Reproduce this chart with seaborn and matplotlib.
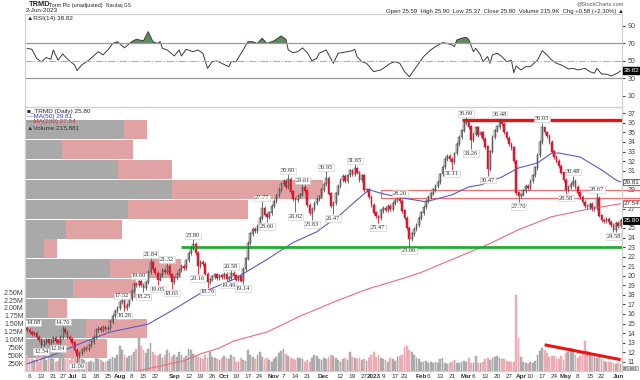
import matplotlib
matplotlib.use("Agg")
import matplotlib.pyplot as plt
import matplotlib.transforms as mtransforms
from matplotlib.patches import Rectangle
import numpy as np
import pandas as pd
import seaborn as sns

# trading sessions 3-Jun-2022 .. 2-Jun-2023 (US market holidays removed)
holidays = ["2022-06-20", "2022-07-04", "2022-09-05", "2022-11-24", "2022-12-26",
            "2023-01-02", "2023-01-16", "2023-02-20", "2023-04-07", "2023-05-29"]

# daily closes
close_jun22 = [14.3, 14.1, 13.9, 14.0, 13.6, 13.3, 12.8, 13.1, 13.3, 13.0, 13.2, 13.5, 13.2, 12.95, 13.6, 14.4, 14.1, 13.6, 13.4]
close_jul22 = [13.0, 12.2, 11.6, 11.9, 12.2, 12.4, 12.3, 12.7, 13.1, 13.6, 14.3, 14.5, 14.3, 14.6, 14.4, 14.5, 15.2, 15.8, 16.3, 16.6]
close_aug22 = [17.2, 17.4, 16.6, 16.9, 17.6, 18.4, 19.1, 19.0, 19.4, 19.0, 18.7, 19.3, 20.4, 21.4, 20.7, 20.3, 19.6, 20.1, 20.6, 20.4, 21.0, 20.1, 19.3]
close_sep22 = [19.8, 20.2, 20.6, 21.0, 20.8, 21.6, 22.4, 22.9, 23.3, 22.4, 21.0, 21.4, 21.2, 20.2, 19.3, 19.6, 19.9, 20.1, 19.8, 20.0, 19.9]
close_oct22 = [20.2, 19.7, 19.8, 20.3, 20.0, 19.6, 19.9, 19.5, 20.7, 21.8, 23.4, 24.4, 24.9, 24.7, 25.2, 26.0, 27.1, 26.4, 26.1, 26.6, 27.3]
close_nov22 = [27.8, 28.4, 29.0, 29.6, 29.9, 29.3, 30.1, 28.8, 28.0, 27.9, 28.3, 28.5, 29.3, 28.9, 27.4, 26.6, 27.0, 27.6, 28.0, 28.3, 29.0]
close_dec22 = [29.6, 30.2, 28.6, 27.3, 27.6, 28.6, 29.4, 30.0, 30.4, 29.9, 30.5, 31.0, 30.6, 31.2, 30.8, 30.0, 30.5, 29.0, 29.0, 28.2, 27.4]
close_jan23 = [26.6, 26.2, 26.0, 26.8, 27.1, 26.9, 27.3, 27.0, 27.6, 27.9, 28.0, 27.8, 26.8, 26.0, 25.0, 23.8, 24.4, 24.9, 25.3, 26.0]
close_feb23 = [26.6, 27.2, 27.8, 28.2, 28.6, 29.0, 29.4, 29.8, 30.6, 31.4, 32.2, 32.5, 32.2, 31.9, 32.8, 33.8, 34.5, 35.2, 36.0]
close_mar23 = [36.2, 35.6, 34.2, 34.8, 35.5, 34.7, 35.0, 34.3, 33.5, 31.2, 33.0, 34.5, 35.2, 35.6, 36.1, 35.9, 35.0, 34.4, 33.8, 33.4, 32.0, 28.7, 28.3]
close_apr23 = [28.5, 28.9, 29.4, 29.2, 29.9, 30.5, 31.3, 32.6, 34.0, 35.5, 35.0, 34.6, 34.0, 33.0, 32.4, 32.0, 31.5, 30.8, 30.0]
close_may23 = [29.0, 29.3, 29.6, 29.9, 29.3, 28.7, 28.2, 27.7, 27.3, 27.2, 27.5, 27.0, 27.1, 28.1, 26.3, 25.8, 25.7, 25.9, 25.6, 25.3, 24.8, 25.5]
close_jun23 = [25.22, 25.80]
first_open = 14.5

# daily volume (thousands of shares)
vol_jun22 = [520, 430, 380, 350, 460, 300, 620, 480, 350, 400, 700, 380, 300, 330, 450, 520, 380, 420, 350]
vol_jul22 = [400, 600, 750, 450, 380, 350, 300, 280, 330, 300, 420, 380, 350, 300, 280, 320, 380, 450, 400, 520]
vol_aug22 = [800, 650, 500, 420, 480, 520, 600, 700, 1050, 800, 650, 560, 700, 900, 600, 500, 480, 550, 420, 500, 650, 580, 450]
vol_sep22 = [520, 450, 600, 500, 420, 480, 700, 650, 550, 480, 450, 400, 380, 500, 420, 600, 450, 400, 380, 350, 420]
vol_oct22 = [480, 420, 380, 520, 450, 300, 280, 420, 350, 320, 650, 500, 450, 380, 520, 600, 450, 380, 420, 350, 300]
vol_nov22 = [380, 450, 560, 630, 700, 550, 480, 420, 380, 350, 400, 420, 380, 300, 350, 280, 420, 520, 480, 380, 350]
vol_dec22 = [420, 380, 450, 520, 480, 400, 350, 300, 380, 420, 350, 600, 450, 400, 380, 420, 350, 380, 320, 400, 500]
vol_jan23 = [600, 450, 520, 400, 380, 350, 300, 420, 380, 330, 450, 480, 520, 750, 800, 680, 600, 500, 420, 380]
vol_feb23 = [300, 280, 320, 260, 300, 250, 280, 260, 380, 400, 250, 220, 250, 280, 360, 260, 250, 300, 330]
vol_mar23 = [270, 420, 260, 240, 470, 250, 240, 300, 380, 400, 360, 410, 430, 470, 420, 370, 380, 330, 300, 290, 280, 2420, 1050]
vol_apr23 = [450, 280, 240, 230, 300, 260, 320, 500, 620, 720, 680, 560, 450, 480, 470, 420, 380, 460, 350]
vol_may23 = [560, 600, 720, 650, 500, 420, 480, 560, 950, 620, 520, 480, 450, 420, 470, 380, 320, 300, 280, 300, 250, 230]
vol_jun23 = [240, 216]

# labelled swing highs / lows
swing_dates = ["2022-06-03", "2022-06-13", "2022-06-23", "2022-06-27", "2022-07-06", "2022-08-02", "2022-08-03",
               "2022-08-11", "2022-08-15", "2022-08-18", "2022-08-23", "2022-08-29", "2022-08-31", "2022-09-14",
               "2022-09-16", "2022-09-22", "2022-10-05", "2022-10-06", "2022-10-13", "2022-10-25", "2022-10-27",
               "2022-11-09", "2022-11-14", "2022-11-17", "2022-11-23", "2022-12-02", "2022-12-07", "2022-12-20",
               "2023-01-05", "2023-01-19", "2023-01-25", "2023-02-21", "2023-03-01", "2023-03-03", "2023-03-14",
               "2023-03-21", "2023-03-31", "2023-04-17", "2023-05-01", "2023-05-04", "2023-05-18", "2023-05-30"]
swing_values = [14.68, 12.54, 12.84, 14.76, 11.00, 17.52, 16.26, 19.60, 18.25, 21.84, 19.05, 21.32, 18.65, 23.80,
                20.16, 18.76, 19.49, 20.58, 19.14, 27.77, 25.60, 30.60, 26.62, 29.61, 25.83, 30.95, 26.47, 31.65,
                25.47, 28.20, 23.06, 31.11, 36.60, 33.26, 30.47, 36.48, 27.70, 36.03, 28.58, 30.48, 28.67, 24.58]
swing_kind = "hllhlhlhlhlhlhlllhlhlhlhlhlhlhllhllhlhlhhl"

# moving averages (session number, value)
ma50_session = [0, 10, 24, 35, 51, 62, 73, 87, 101, 112, 122, 132, 139, 144, 150, 158, 168, 179, 186, 191,
                200, 207, 215, 221, 224, 233, 242, 248, 250]
ma50_value = [10.78, 11.61, 13.07, 14.11, 14.94, 16.5, 18.17, 19.62, 21.7, 23.47, 24.6, 26.4, 27.95, 29.0,
              28.57, 28.15, 27.74, 28.47, 29.3, 29.5, 30.34, 31.28, 31.8, 32.84, 32.84, 32.42, 31.07, 30.03, 29.81]
ma200_session = [46, 66, 73, 81, 87, 101, 115, 129, 143, 157, 166, 179, 194, 207, 221, 235, 250]
ma200_value = [10.0, 11.1, 11.82, 12.44, 13.17, 14.11, 15.77, 17.23, 18.58, 19.62, 20.35, 21.7, 23.26,
               24.82, 26.18, 26.91, 27.54]

# RSI(14) (session number, value)
rsi_session = [0, 2, 4, 6, 8, 10, 11, 13, 15, 17, 20, 21, 23, 26, 30, 32, 34, 36, 38, 41, 44, 46, 49, 51, 53,
               55, 56, 57, 59, 62, 64, 65, 67, 70, 72, 74, 76, 78, 80, 83, 85, 86, 88, 91, 93, 95, 97, 99, 101,
               104, 107, 109, 110, 112, 114, 116, 118, 120, 122, 123, 126, 129, 131, 135, 137, 138, 139, 141, 143,
               146, 149, 151, 153, 155, 157, 159, 161, 163, 165, 167, 170, 172, 175, 177, 179, 180, 181, 183, 185,
               186, 188, 189, 191, 192, 194, 195, 196, 198, 200, 202, 204, 205, 206, 208, 210, 212, 215, 217, 219,
               221, 223, 225, 228, 230, 232, 235, 237, 239, 240, 242, 244, 246, 247, 249, 250]
rsi_value = [64.5, 63.3, 53, 49, 54, 52, 62.6, 51, 58, 52, 45.5, 39, 45.5, 51, 60.6, 57, 62.5, 70, 72, 65, 72,
             74.8, 73, 83.5, 72, 70, 72, 64.5, 62.6, 55.7, 62.6, 55.7, 63.3, 60.6, 62.6, 58.8, 41.6, 49.2, 50, 46,
             43.5, 49.2, 49.2, 62.6, 72, 72, 70, 76, 70, 73, 78.6, 74.8, 62.6, 59.5, 60.6, 65, 59.5, 50.4, 53,
             58.8, 62.6, 47.3, 58.8, 60.6, 61.8, 63.3, 55, 49.2, 47.3, 37.8, 39.7, 43.5, 47.3, 49.2, 47.3, 37.8,
             32, 39.7, 47.3, 55, 62.6, 66.4, 70.9, 70, 68.3, 66.4, 74, 76, 77, 74.8, 60.6, 64.5, 56.9, 49.2, 55,
             47.3, 56.9, 58.8, 55, 49.2, 51, 36.6, 44.3, 39.7, 43.5, 43.5, 51, 61.8, 56.9, 51, 47.3, 45.5, 40.9,
             41.6, 39.7, 41.6, 37.8, 36, 41.6, 35, 35, 32.9, 34, 36.6, 38.82]

# volume-by-price zones (zone bottom price, down / up volume in arbitrary units)
vbp_bottom = [34.31, 32.22, 30.12, 28.03, 25.94, 23.85, 21.86, 19.77, 17.67, 15.58, 13.48, 11.38]
vbp_gray = [99, 37, 93, 147, 103, 41, 19, 85, 48, 23, 61, 38]
vbp_pink = [23, 71, 54, 151, 120, 56, 13, 71, 63, 19, 61, 44]

# drawn annotations
resist_level, resist_start = 36.30, "2023-02-27"
support_level, support_start = 23.0, "2022-09-07"
box_low, box_high, box_start = 28.15, 28.97, "2023-01-06"
vol_trend_dates = ["2023-04-18", "2023-06-02"]
vol_trend_values = [830, 360]

tick_dates = ["2022-06-06", "2022-06-13", "2022-06-21", "2022-06-27", "2022-07-01", "2022-07-11", "2022-07-18",
              "2022-07-25", "2022-08-01", "2022-08-08", "2022-08-15", "2022-08-22", "2022-09-01", "2022-09-12",
              "2022-09-19", "2022-09-26", "2022-10-03", "2022-10-10", "2022-10-17", "2022-10-24", "2022-11-01",
              "2022-11-07", "2022-11-14", "2022-11-21", "2022-12-01", "2022-12-12", "2022-12-19", "2022-12-27",
              "2023-01-03", "2023-01-09", "2023-01-17", "2023-01-23", "2023-02-01", "2023-02-06", "2023-02-13",
              "2023-02-21", "2023-03-01", "2023-03-06", "2023-03-13", "2023-03-20", "2023-03-27", "2023-04-03",
              "2023-04-10", "2023-04-17", "2023-04-24", "2023-05-01", "2023-05-08", "2023-05-15", "2023-05-22",
              "2023-06-01"]
tick_labels = ["6", "13", "21", "27", "Jul", "11", "18", "25", "Aug", "8", "15", "22", "Sep", "12", "19", "26",
               "Oct", "10", "17", "24", "Nov", "7", "14", "21", "Dec", "12", "19", "27", "2023", "9", "17", "23",
               "Feb", "6", "13", "21", "Mar", "6", "13", "20", "27", "Apr", "10", "17", "24", "May", "8", "15",
               "22", "Jun"]

# ---------------------------------------------------------------------------
sns.set_style("white")
plt.rcParams["font.family"] = ["Liberation Sans", "DejaVu Sans"]

dates = pd.bdate_range("2022-06-03", "2023-06-02").drop(pd.to_datetime(holidays))
sess = np.arange(len(dates))
def pos(d):
    return dates.get_loc(pd.Timestamp(d))

close = np.array(close_jun22 + close_jul22 + close_aug22 + close_sep22 + close_oct22 + close_nov22 +
                 close_dec22 + close_jan23 + close_feb23 + close_mar23 + close_apr23 + close_may23 + close_jun23)
volume = np.array(vol_jun22 + vol_jul22 + vol_aug22 + vol_sep22 + vol_oct22 + vol_nov22 + vol_dec22 +
                  vol_jan23 + vol_feb23 + vol_mar23 + vol_apr23 + vol_may23 + vol_jun23) * 1000.0
open_ = np.r_[first_open, close[:-1]]
top = np.maximum(open_, close)
bot = np.minimum(open_, close)
wick = 0.2
high = top + wick
low = bot - wick
for d, v, k in zip(swing_dates, swing_values, swing_kind):
    i = pos(d)
    if k == "h":
        high[i] = max(v, top[i])
    else:
        low[i] = min(v, bot[i])
up = close >= open_

XL = (-0.9, 250.6)
W, H = 640, 380
fig = plt.figure(figsize=(6.4, 3.8), dpi=100)
ax_rsi = fig.add_axes([25 / W, 1 - 107 / H, 597 / W, 93 / H])
rect_p = [25 / W, 1 - 371 / H, 597 / W, 264 / H]
ax_vbp = fig.add_axes(rect_p, zorder=1)
ax_v = fig.add_axes(rect_p, zorder=2)
ax_p = ax_v.twinx()
ax_p.set_zorder(3)
for a in (ax_v, ax_p):
    a.patch.set_visible(False)

# ---- RSI panel
sns.lineplot(x=rsi_session, y=rsi_value, ax=ax_rsi, color="#3a3a3a", lw=0.7)
rs, rv = np.array(rsi_session), np.array(rsi_value)
ax_rsi.fill_between(rs, rv, 70, where=rv > 70, interpolate=True, color="#5e8c5e", lw=0)
ax_rsi.axhline(70, color="#9a9a9a", lw=0.9)
ax_rsi.axhline(30, color="#9a9a9a", lw=0.9)
ax_rsi.axhline(50, color="#b0b0b0", lw=0.8, ls="-.")
ax_rsi.set_ylim(-2.6, 103.7)
ax_rsi.set_xlim(*XL)
ax_rsi.yaxis.tick_right()
ax_rsi.set_yticks([10, 30, 50, 70, 90])
ax_rsi.tick_params(axis="y", labelsize=5, length=2, pad=2, colors="#444")
ax_rsi.set_xticks([])
ax_rsi.set_xlabel("")
ax_rsi.set_ylabel("")
ax_rsi.text(1.003, 38.82, "38.82", transform=mtransforms.blended_transform_factory(ax_rsi.transAxes, ax_rsi.transData),
            fontsize=4.6, color="white", va="center", ha="left",
            bbox=dict(boxstyle="square,pad=0.12", fc="black", ec="black"))

# ---- volume by price
for b, g, p in zip(vbp_bottom, vbp_gray, vbp_pink):
    ax_vbp.barh(b, g, height=1.95, align="edge", color="#a9a9a9", lw=0)
    ax_vbp.barh(b, p, left=g, height=1.95, align="edge", color="#e0a2a2", lw=0)
ax_vbp.set_xlim(0, 597)
ax_vbp.set_ylim(10.03, 37.66)
ax_vbp.axis("off")

# ---- volume
vcol = np.where(up, "#b3b3b3", "#f0b3ba")
ax_v.bar(sess, volume, width=0.75, color=vcol, edgecolor=np.where(up, "#999999", "#e49aa3"), lw=0.3)
ax_v.plot([pos(d) for d in vol_trend_dates], np.array(vol_trend_values) * 1000, color="#ee1111", lw=2.2,
          solid_capstyle="butt")
ax_v.set_ylim(0, 8.37e6)
ax_v.set_xlim(*XL)
vt = np.arange(1, 11) * 250000
ax_v.set_yticks(vt)
ax_v.set_yticklabels([f"{int(t / 1000)}K" if t < 1e6 else f"{t / 1e6:.2f}M" for t in vt])
ax_v.tick_params(axis="y", labelsize=5, length=0, pad=1, colors="#444")

# ---- price
sns.lineplot(x=ma200_session, y=ma200_value, ax=ax_p, color="#ef6a7a", lw=0.8)
sns.lineplot(x=ma50_session, y=ma50_value, ax=ax_p, color="#5a5ac8", lw=0.8)
ax_p.hlines(resist_level, pos(resist_start), XL[1], color="#ee1111", lw=2.4)
ax_p.hlines(support_level, pos(support_start), XL[1], color="#22aa33", lw=2.0)
bs = pos(box_start)
ax_p.add_patch(Rectangle((bs, box_low), XL[1] - bs + 7.5, box_high - box_low, fill=False,
                         ec="#ee6f6f", lw=0.9, clip_on=False))
ax_p.vlines(sess, low, high, color=np.where(up, "#555555", "#dd1f35"), lw=0.6)
ax_p.bar(sess[up], (top - bot)[up] + 0.03, bottom=bot[up], width=0.7, color="#d2d2d2",
         edgecolor="#3a3a3a", lw=0.35)
ax_p.bar(sess[~up], (top - bot)[~up] + 0.03, bottom=bot[~up], width=0.7, color="#e8142e",
         edgecolor="#c80e22", lw=0.35)
for d, v, k in zip(swing_dates, swing_values, swing_kind):
    i = pos(d)
    edge = i < 3
    ax_p.text(i - 0.4 if edge else i, v + 0.12 if k == "h" else v - 0.2, f"{v:.2f}", fontsize=4.6,
              family="Liberation Serif", ha="left" if edge else "center",
              va="bottom" if k == "h" else "top", color="#333", clip_on=True,
              bbox=dict(boxstyle="square,pad=0.12", fc="white", ec="#c8c8c8", lw=0.4))
ax_p.set_ylim(10.03, 37.66)
ax_p.set_xlim(*XL)
# labels hidden behind the current-value boxes, as on the reference
pt = [t for t in range(11, 38) if t not in (26, 28, 30)]
ax_p.set_yticks(pt)
ax_p.tick_params(axis="y", labelsize=5, length=2, pad=2, colors="#444")
ax_p.set_ylabel("")
ax_v.set_ylabel("")

bt = mtransforms.blended_transform_factory(ax_p.transAxes, ax_p.transData)
for val, fc, ec, tc in [(29.81, "white", "#4444cc", "#333"), (27.54, "white", "#e04050", "#333"),
                        (25.80, "black", "black", "white")]:
    ax_p.text(1.003, val, f"{val:.2f}", transform=bt, fontsize=4.6, color=tc, va="center", ha="left",
              bbox=dict(boxstyle="square,pad=0.12", fc=fc, ec=ec, lw=0.6))
ax_v.text(1.002, 90000, "215,881", transform=mtransforms.blended_transform_factory(ax_v.transAxes, ax_v.transData),
          fontsize=3.0, color="#333", va="center", ha="left",
          bbox=dict(boxstyle="square,pad=0.08", fc="#dddddd", ec="#888", lw=0.4))

# x axis
ax_v.set_xticks([pos(d) for d in tick_dates])
ax_v.set_xticklabels(tick_labels)
for t, lab in zip(ax_v.get_xticklabels(), tick_labels):
    if not lab.isdigit() or lab == "2023":
        t.set_fontweight("bold")
ax_v.tick_params(axis="x", labelsize=4.6, length=1.5, pad=0.5, colors="#333")

for a in (ax_rsi, ax_v, ax_p):
    for s in a.spines.values():
        s.set_color("#cfcfcf")
        s.set_linewidth(0.8)

# ---- header and legends
def ftext(x, y, s, **kw):
    fig.text(x / W, 1 - y / H, s, va="center", **kw)

ftext(29, 5, "TRMD", fontsize=5.4, fontweight="bold")
ftext(49, 5, "Torm Plc (unadjusted)", fontsize=4.0)
ftext(106, 5, "Nasdaq GS", fontsize=3.4)
ftext(26, 11, "2-Jun-2023", fontsize=4.6)
ftext(624, 4, "@StockCharts.com", fontsize=4.0, ha="right", color="#555")
ftext(624, 11.5, "Open 25.59  High 25.90  Low 25.37  Close 25.80  Volume 215.9K  Chg +0.58 (+2.30%) \u25b2",
      fontsize=4.3, ha="right")
ftext(27, 18.5, "\u25b2RSI(14) 38.82", fontsize=4.6)
ftext(27, 111, "\u25a0_TRMD (Daily) 25.80", fontsize=4.6)
ftext(27, 116.5, "\u2014MA(50) 29.81", fontsize=4.6, color="#3333bb")
ftext(27, 122, "\u2014MA(200) 27.54", fontsize=4.6, color="#e02840")
ftext(27, 127.5, "\u25b2Volume 215,881", fontsize=4.6, color="#333")

fig.savefig("out.png", dpi=100)
